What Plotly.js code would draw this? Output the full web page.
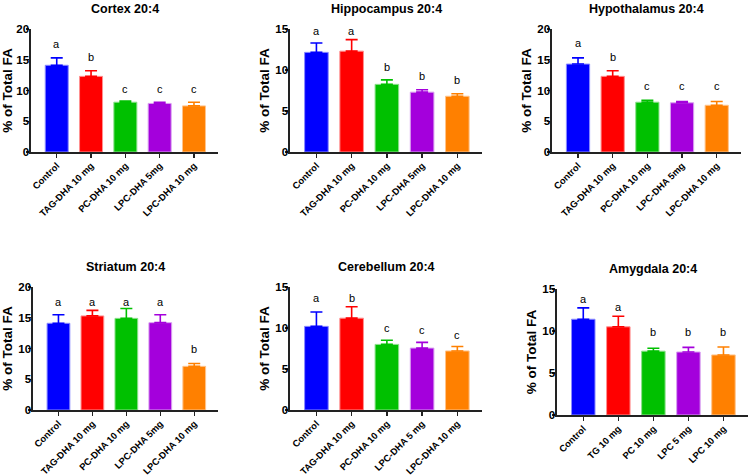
<!DOCTYPE html>
<html>
<head>
<meta charset="utf-8">
<script src="https://cdn.plot.ly/plotly-3.0.1.min.js"></script>
<style>html,body{margin:0;padding:0;background:#fff;overflow:hidden;width:752px;height:476px;}#chart{width:752px;height:476px;}</style>
</head>
<body>
<div id="chart"></div>
<script>
// ---- data ----
const titles = ['Cortex 20:4','Hippocampus 20:4','Hypothalamus 20:4','Striatum 20:4','Cerebellum 20:4','Amygdala 20:4'];
const catsA = ['Control','TAG-DHA 10 mg','PC-DHA 10 mg','LPC-DHA 5mg','LPC-DHA 10 mg'];
const catsCereb = ['Control','TAG-DHA 10 mg','PC-DHA 10 mg','LPC-DHA 5 mg','LPC-DHA 10 mg'];
const catsAmyg = ['Control','TG 10 mg','PC 10 mg','LPC 5 mg','LPC 10 mg'];

const cortexMean = [14.1, 12.3, 8.1, 7.9, 7.5];
const cortexErr  = [1.2, 0.9, 0.2, 0.2, 0.6];
const hippoMean  = [12.15, 12.3, 8.25, 7.3, 6.8];
const hippoErr   = [1.15, 1.4, 0.55, 0.3, 0.3];
const hypoMean   = [14.3, 12.3, 8.1, 8.0, 7.6];
const hypoErr    = [1.0, 0.9, 0.3, 0.2, 0.6];
const striMean   = [14.1, 15.3, 14.9, 14.2, 7.1];
const striErr    = [1.4, 0.9, 1.6, 1.3, 0.45];
const cerebMean  = [10.2, 11.2, 8.0, 7.55, 7.2];
const cerebErr   = [1.75, 1.4, 0.5, 0.7, 0.55];
const amygMean   = [11.4, 10.5, 7.6, 7.5, 7.15];
const amygErr    = [1.35, 1.25, 0.35, 0.55, 0.95];

const cortexLetters = ['a','b','c','c','c'];
const hippoLetters  = ['a','a','b','b','b'];
const hypoLetters   = ['a','b','c','c','c'];
const striLetters   = ['a','a','a','a','b'];
const cerebLetters  = ['a','b','c','c','c'];
const amygLetters   = ['a','a','b','b','b'];

const cortexLetterY = [17.6, 15.4, 10.2, 10.2, 10.2];
const hippoLetterY  = [14.7, 14.7, 10.4, 9.3, 8.8];
const hypoLetterY   = [17.7, 15.5, 10.8, 10.8, 10.8];
const striLetterY   = [17.6, 17.6, 17.6, 17.6, 9.9];
const cerebLetterY  = [13.6, 13.7, 10.0, 9.8, 9.1];
const amygLetterY   = [13.8, 12.8, 9.9, 9.9, 9.9];

const yMax = [20, 15, 20, 20, 15, 15];
const yTicks20 = [0, 5, 10, 15, 20];
const yTicks15 = [0, 5, 10, 15];

const barColors  = ['#0000FF','#FF0000','#00C000','#A400DC','#FF8000'];
const edgeColors = ['#8C8CFF','#FF9090','#8CE08C','#D8A0F0','#FFC48C'];

// ---- panel placement (pixels) ----
const W = 752, H = 476;
const boxes = [
  {x0:31,  x1:218, y0:29,  y1:152},
  {x0:290, x1:482, y0:29,  y1:152},
  {x0:552, x1:741, y0:29,  y1:152},
  {x0:33,  x1:218, y0:287, y1:410},
  {x0:290, x1:482, y0:287, y1:410},
  {x0:557, x1:748, y0:289, y1:415}
];

const panels = [
  {cats:catsA, mean:cortexMean, err:cortexErr, letters:cortexLetters, ly:cortexLetterY},
  {cats:catsA, mean:hippoMean, err:hippoErr, letters:hippoLetters, ly:hippoLetterY},
  {cats:catsA, mean:hypoMean, err:hypoErr, letters:hypoLetters, ly:hypoLetterY},
  {cats:catsA, mean:striMean, err:striErr, letters:striLetters, ly:striLetterY},
  {cats:catsCereb, mean:cerebMean, err:cerebErr, letters:cerebLetters, ly:cerebLetterY},
  {cats:catsAmyg, mean:amygMean, err:amygErr, letters:amygLetters, ly:amygLetterY}
];

const FONT = 'Arial, "Liberation Sans", sans-serif';
const traces = [];
const layout = {
  width: W, height: H,
  margin: {l:0, r:0, t:0, b:0},
  paper_bgcolor: '#fff', plot_bgcolor: '#fff',
  showlegend: false,
  font: {family: FONT, color: '#000'},
  annotations: []
};

panels.forEach((p, i) => {
  const n = i + 1;
  const xa = 'x' + (n === 1 ? '' : n), ya = 'y' + (n === 1 ? '' : n);
  const xk = 'xaxis' + (n === 1 ? '' : n), yk = 'yaxis' + (n === 1 ? '' : n);
  const b = boxes[i];
  p.cats.forEach((c, j) => {
    traces.push({
      type: 'bar', x: [c], y: [p.mean[j]], xaxis: xa, yaxis: ya,
      width: 0.67,
      marker: {color: barColors[j], line: {color: edgeColors[j], width: 1}},
      error_y: {type: 'data', symmetric: false, array: [p.err[j]], arrayminus: [0],
                color: barColors[j], thickness: 1.6, width: 6},
      hoverinfo: 'none'
    });
    layout.annotations.push({
      xref: xa, yref: ya, x: c, y: p.ly[j], text: p.letters[j],
      showarrow: false, yanchor: 'middle', xanchor: 'center',
      font: {family: FONT, size: 11, color: '#000'}
    });
  });
  layout[xk] = {
    domain: [b.x0 / W, b.x1 / W], anchor: ya, type: 'category',
    categoryorder: 'array', categoryarray: p.cats,
    range: [-0.75, 4.7], showline: true, linewidth: 1.6, linecolor: '#222',
    ticks: 'outside', ticklen: 4, tickwidth: 1.4, tickcolor: '#222',
    ticklabelstandoff: -1, ticklabeloverflow: 'allow',
    tickangle: -45, showgrid: false, zeroline: false, fixedrange: true,
    tickfont: {family: FONT, size: 9.4, color: '#000', weight: 'bold'}
  };
  layout[yk] = {
    domain: [1 - b.y1 / H, 1 - b.y0 / H], anchor: xa,
    range: [0, yMax[i]], tickvals: yMax[i] === 20 ? yTicks20 : yTicks15,
    showline: true, linewidth: 1.6, linecolor: '#222',
    ticks: 'outside', ticklen: 3, tickwidth: 1.4, tickcolor: '#222',
    ticklabelstandoff: -5,
    showgrid: false, zeroline: false, fixedrange: true,
    tickfont: {family: FONT, size: 11.5, color: '#000', weight: 'bold'},
    title: {text: '% of Total FA', standoff: 2,
            font: {family: FONT, size: 13.5, color: '#000', weight: 'bold'}}
  };
  layout.annotations.push({
    xref: 'paper', yref: 'paper',
    x: ((b.x0 + b.x1) / 2) / W, y: 1 - (b.y0 - 20) / H,
    text: '<b>' + titles[i] + '</b>', showarrow: false,
    xanchor: 'center', yanchor: 'middle',
    font: {family: FONT, size: 12.5, color: '#000'}
  });
});

Plotly.newPlot('chart', traces, layout, {staticPlot: true, displayModeBar: false});
</script>
</body>
</html>
